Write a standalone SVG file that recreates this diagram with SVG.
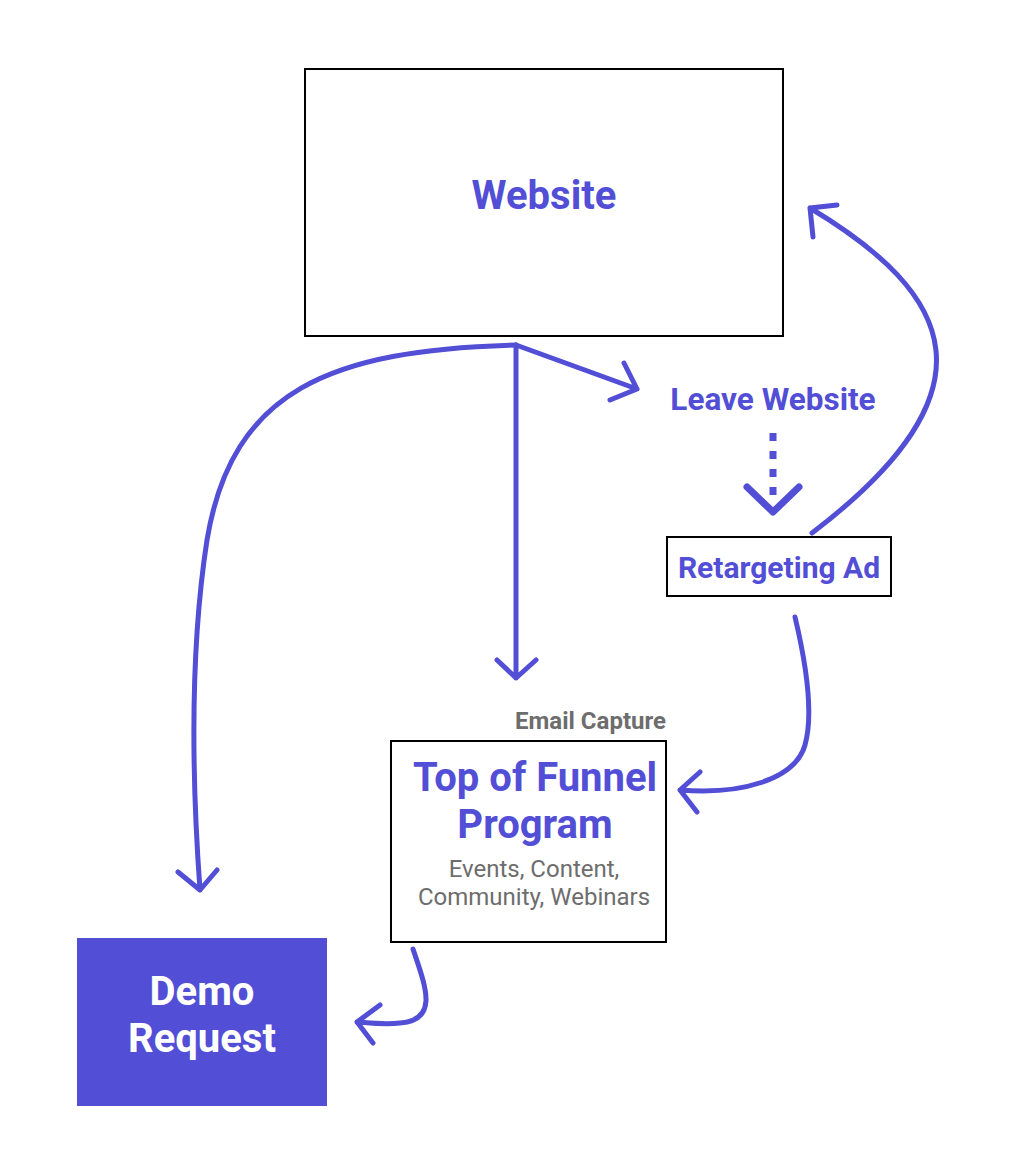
<svg xmlns="http://www.w3.org/2000/svg" width="1015" height="1175" viewBox="0 0 1015 1175">
<style>
.box{fill:#fff;stroke:#000;stroke-width:2}
.t{font-family:Roboto,"Liberation Sans",sans-serif;font-weight:700;fill:#524ed6;text-anchor:middle}
.g{font-family:Roboto,"Liberation Sans",sans-serif;fill:#6d6d6d;text-anchor:middle}
.w{fill:#fff}
.end{text-anchor:end;font-weight:700}
.c{fill:none;stroke:#524ed6;stroke-width:5;stroke-linecap:round;stroke-linejoin:round}
</style>
<rect width="1015" height="1175" fill="#fff"/>
<g id="website">
<rect class="box" x="305" y="69" width="478" height="267"/>
<text class="t" x="544" y="209" font-size="40">Website</text>
</g>
<g id="leave-website">
<text class="t" x="773" y="410" font-size="31.5">Leave Website</text>
</g>
<g id="retargeting-ad">
<rect class="box" x="667" y="537" width="224" height="59"/>
<text class="t" x="779" y="578" font-size="30">Retargeting Ad</text>
</g>
<g id="top-of-funnel">
<text class="g end" x="666" y="729" font-size="24">Email Capture</text>
<rect class="box" x="391" y="741" width="275" height="201"/>
<text class="t" x="535" y="791" font-size="40">Top of Funnel</text>
<text class="t" x="535" y="838" font-size="40">Program</text>
<text class="g" x="534" y="877" font-size="24">Events, Content,</text>
<text class="g" x="534" y="905" font-size="24">Community, Webinars</text>
</g>
<g id="demo-request">
<rect x="77" y="938" width="250" height="168" fill="#524ed6"/>
<text class="t w" x="202" y="1005" font-size="40">Demo</text>
<text class="t w" x="202" y="1052" font-size="40">Request</text>
</g>
<g id="connectors">
<path class="c" d="M516,345 L516,678 M497,660 L516,678 L536,660"/>
<path class="c" d="M516,345 L637,389 M624,363 L637,389 L610,400"/>
<path class="c" d="M516,345 C330,350 232,390 207,540 C190,650 192,780 200,890 M178,872 L200,890 L217,870"/>
<path d="M773,433 L773,500" fill="none" stroke="#524ed6" stroke-width="7" stroke-dasharray="8,10"/>
<path class="c" style="stroke-width:7" d="M747,487 L773,512 L799,487"/>
<path class="c" d="M812,533 C1000,390 955,295 810,208 M837,205 L810,208 L813,237"/>
<path class="c" d="M795,617 C810,680 812,720 805,745 C795,780 740,795 680,790 M700,772 L680,790 L697,812"/>
<path class="c" d="M413,949 C425,985 440,1020 400,1023 C385,1025 370,1023 357,1022 M380,1005 L357,1022 L373,1043"/>
</g>
</svg>
